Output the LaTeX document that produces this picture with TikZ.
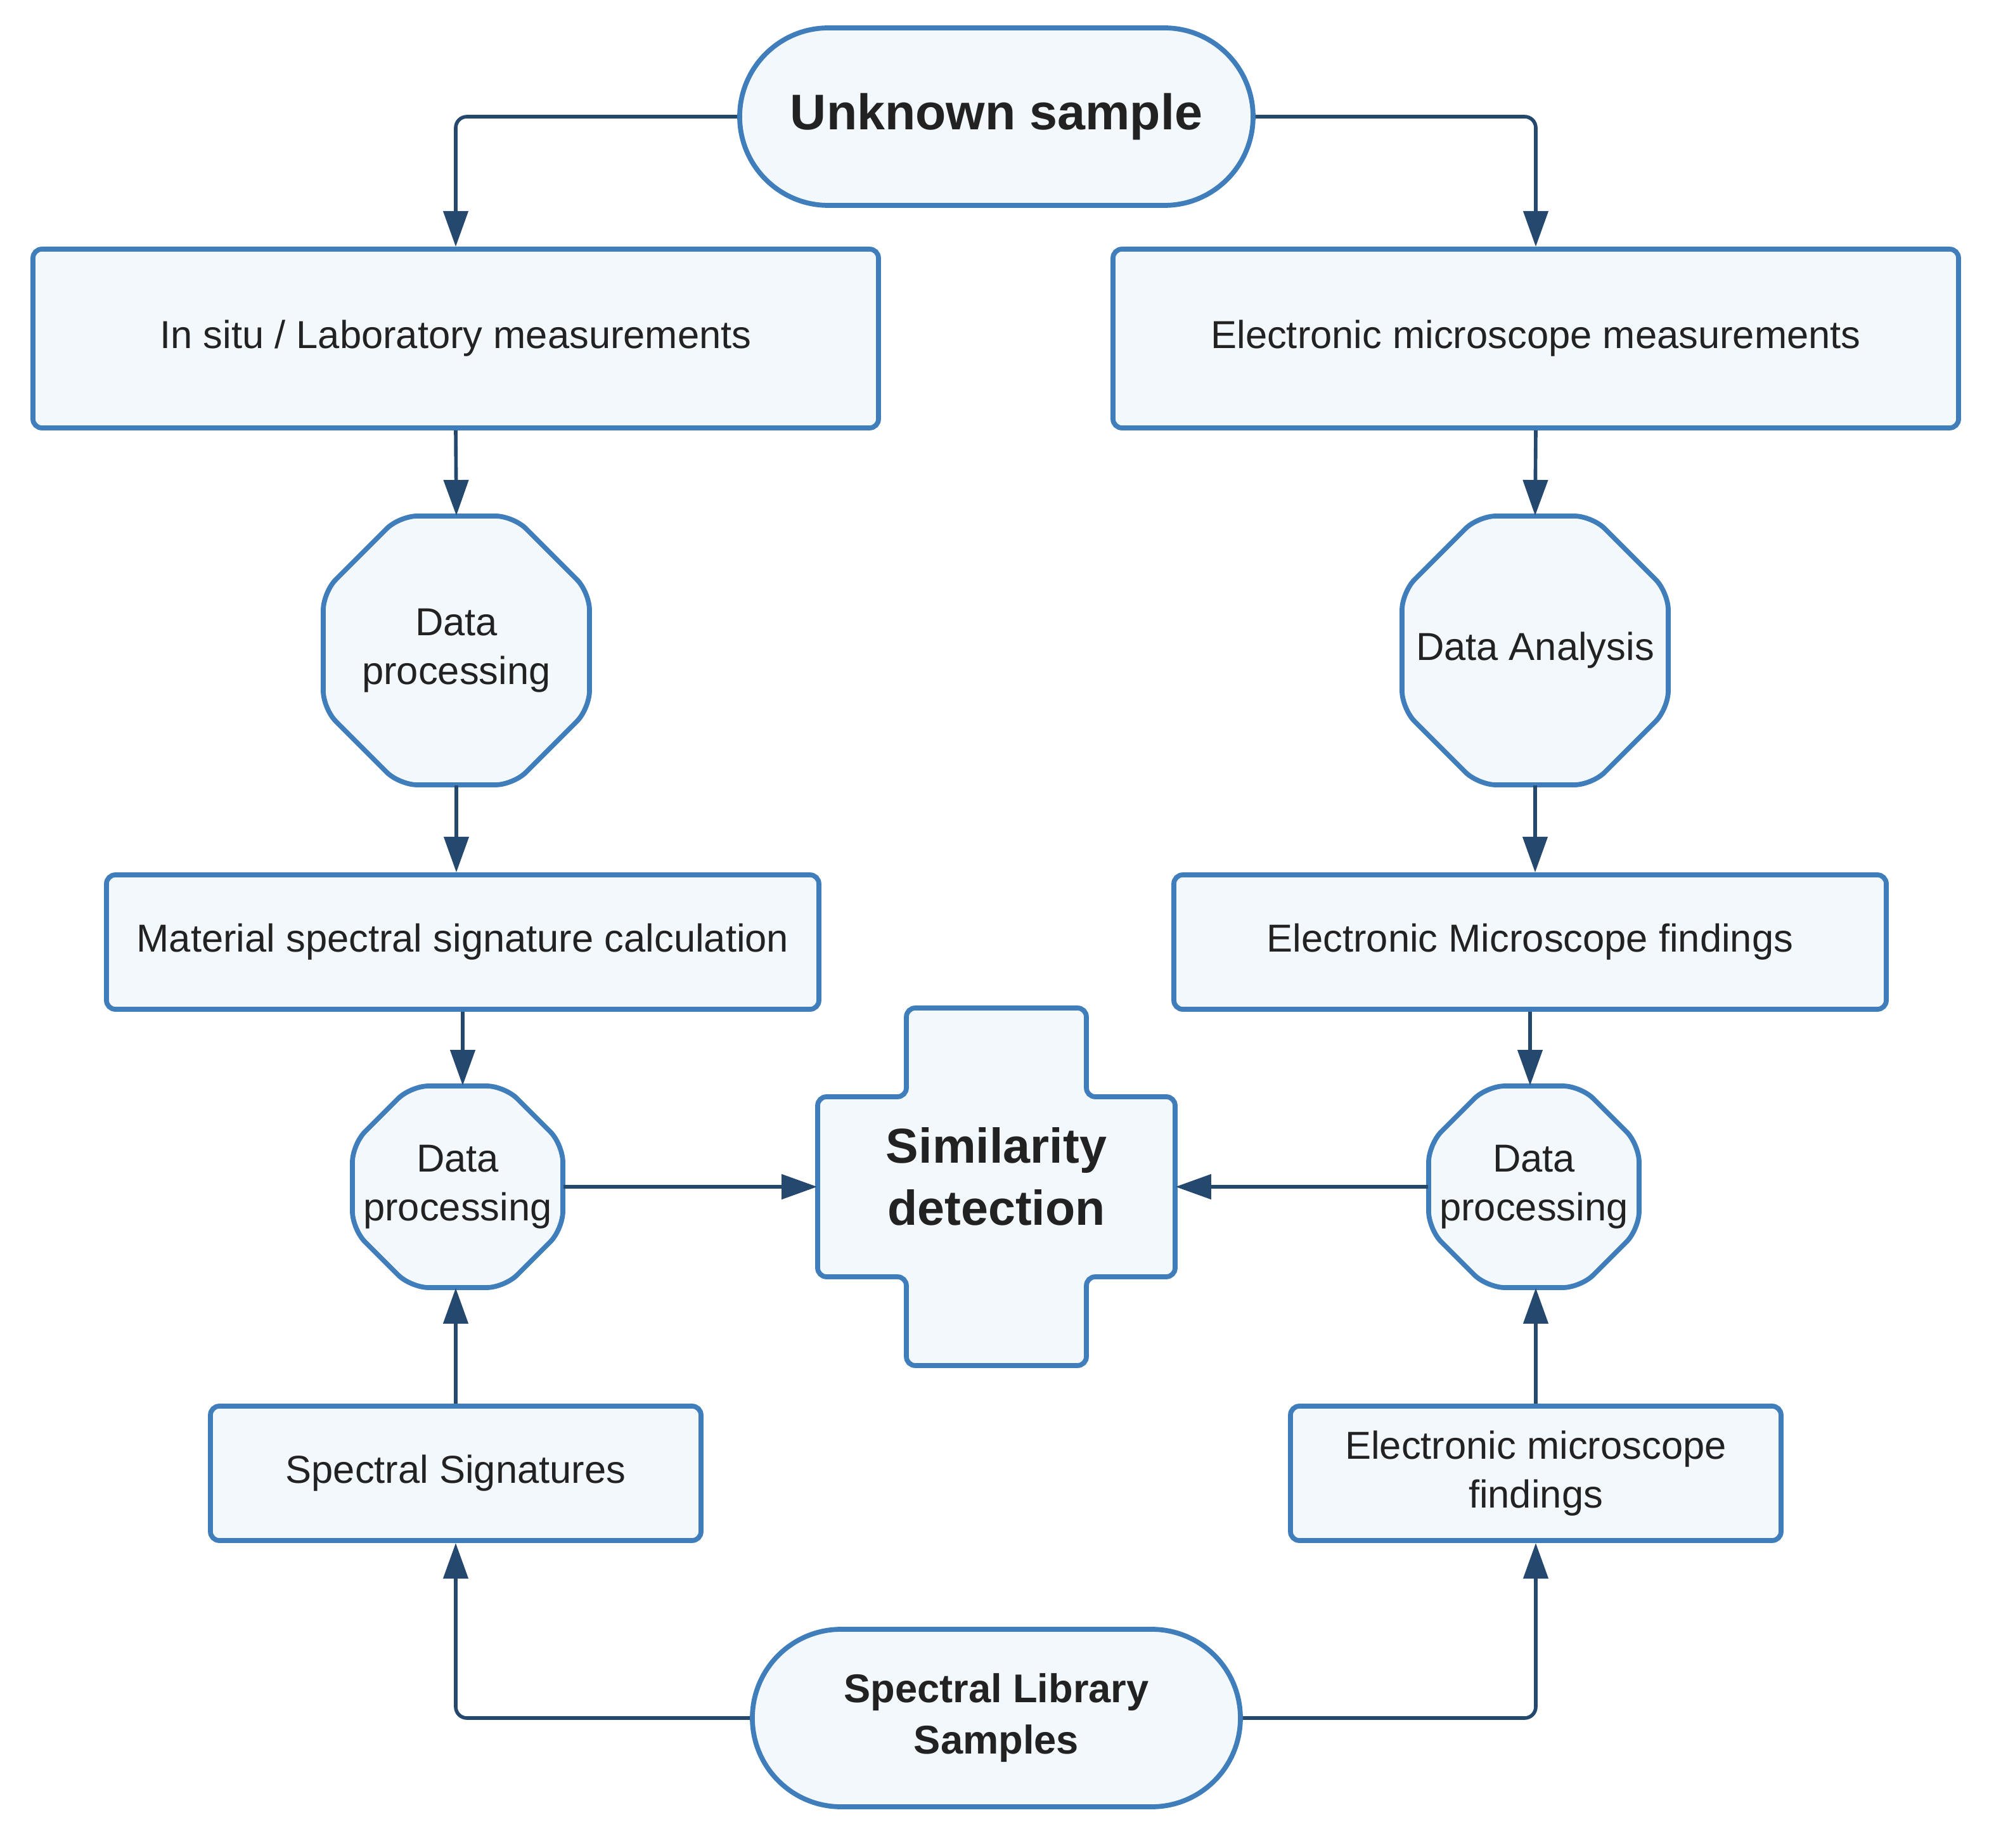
\documentclass[tikz,border=0pt]{standalone}
\usepackage{fontspec}
\setmainfont{Liberation Sans}
\usetikzlibrary{shapes.geometric,shapes.misc,arrows.meta}
\definecolor{bd}{HTML}{3F7EBB}
\definecolor{fl}{HTML}{F3F8FD}
\definecolor{ar}{HTML}{24486E}
\definecolor{tx}{HTML}{222222}
\newcommand{\octnode}[7]{%
  \draw[draw=bd,fill=fl,line width=2.2pt,rounded corners=8pt]
   (#2-#4/2+#6,#3-#5/2) -- (#2+#4/2-#6,#3-#5/2) -- (#2+#4/2,#3-#5/2+#6) -- (#2+#4/2,#3+#5/2-#6)
   -- (#2+#4/2-#6,#3+#5/2) -- (#2-#4/2+#6,#3+#5/2) -- (#2-#4/2,#3+#5/2-#6) -- (#2-#4/2,#3-#5/2+#6) -- cycle;
  \node[minimum width=#4*0.02cm,minimum height=#5*0.02cm,inner sep=0pt,align=center,text=tx,font=\fontsize{17.5}{22}\selectfont] (#1) at (#2,#3) {#7};}
\begin{document}
\begin{tikzpicture}[x=0.02cm,y=-0.02cm,
  base/.style={draw=bd,fill=fl,line width=2.2pt,text=tx,align=center,inner sep=0pt},
  box/.style={base,rounded corners=4pt,font=\fontsize{17.5}{22}\selectfont},
  stad/.style={base,rounded rectangle,rounded rectangle arc length=180},
  arr/.style={draw=ar,line width=1.6pt,-{Triangle[length=16pt,width=11pt]},rounded corners=5pt}]
\useasboundingbox (0,0) rectangle (1578.5,1457.5);
\node[stad,minimum width=405*0.02cm,minimum height=140*0.02cm,font=\bfseries\fontsize{22.5}{26}\selectfont] (us) at (786,92) {Unknown sample};
\node[box,minimum width=667*0.02cm,minimum height=141*0.02cm] (is) at (359.5,267) {In situ / Laboratory measurements};
\node[box,minimum width=667*0.02cm,minimum height=141*0.02cm] (em) at (1211.5,267) {Electronic microscope measurements};
\octnode{dp1}{360}{513}{210}{212}{60}{Data\\processing}
\octnode{da}{1211}{513}{210}{212}{60}{Data Analysis}
\node[box,minimum width=562*0.02cm,minimum height=106*0.02cm] (ms) at (365,743) {Material spectral signature calculation};
\node[box,minimum width=562*0.02cm,minimum height=106*0.02cm] (ef) at (1207,743) {Electronic Microscope findings};
\octnode{dp2}{361}{936}{166}{159}{46}{Data\\processing}
\octnode{dp3}{1210}{936}{166}{159}{46}{Data\\processing}
% cross
\draw[draw=bd,fill=fl,line width=2.2pt,rounded corners=4pt]
 (715,795) -- (857,795) -- (857,865) -- (927,865) -- (927,1007) -- (857,1007) -- (857,1077)
 -- (715,1077) -- (715,1007) -- (645,1007) -- (645,865) -- (715,865) -- cycle;
\node[minimum width=282*0.02cm,minimum height=142*0.02cm,inner sep=0pt,align=center,text=tx,font=\bfseries\fontsize{22}{28}\selectfont] (sim) at (786,928) {Similarity\\detection};
\node[box,minimum width=387*0.02cm,minimum height=106*0.02cm] (ss) at (359.5,1162) {Spectral Signatures};
\node[box,minimum width=387*0.02cm,minimum height=106*0.02cm] (ef2) at (1211.5,1162) {Electronic microscope\\findings};
\node[stad,minimum width=385*0.02cm,minimum height=140*0.02cm,font=\bfseries\fontsize{18}{23}\selectfont] (sl) at (786,1355) {Spectral Library\\Samples};
% arrows
\draw[arr] (us.west) -| (is.north);
\draw[arr] (us.east) -| (em.north);
\draw[arr] (is.south) -- (dp1.north);
\draw[arr] (em.south) -- (da.north);
\draw[arr] (dp1.south) -- (dp1.south|-ms.north);
\draw[arr] (da.south) -- (da.south|-ef.north);
\draw[arr] (ms.south) -- (ms.south|-dp2.north);
\draw[arr] (ef.south) -- (ef.south|-dp3.north);
\draw[arr] (dp2.east) -- (dp2.east-|sim.west) ;
\draw[arr] (dp3.west) -- (dp3.west-|sim.east);
\draw[arr] (ss.north) -- (ss.north|-dp2.south);
\draw[arr] (ef2.north) -- (ef2.north|-dp3.south);
\draw[arr] (sl.west) -| (ss.south);
\draw[arr] (sl.east) -| (ef2.south);
\end{tikzpicture}
\end{document}
